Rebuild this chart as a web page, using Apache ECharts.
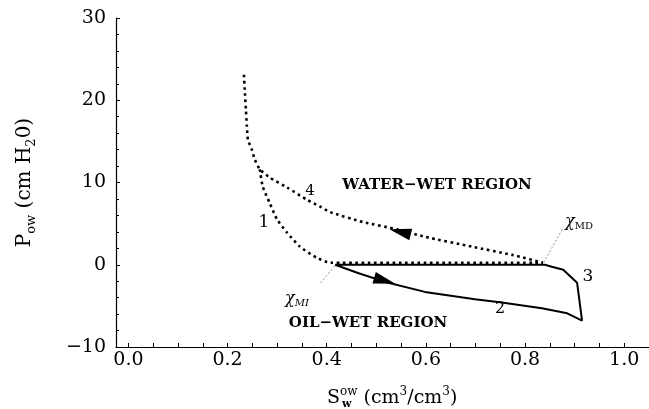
<!DOCTYPE html>
<html>
<head>
<meta charset="utf-8">
<script src="https://cdn.jsdelivr.net/npm/echarts@6/dist/echarts.min.js"></script>
<style>
  html, body { margin: 0; padding: 0; background: #fff; }
  #main { width: 649px; height: 409px; }
</style>
</head>
<body>
<div id="main"></div>
<script>
// upper dotted curve (drainage, branch 4)
var upperSw = [0.233, 0.235, 0.237, 0.239, 0.241, 0.249, 0.255, 0.265, 0.285, 0.320, 0.360, 0.386, 0.407, 0.473, 0.542, 0.598, 0.693, 0.774, 0.836];
var upperP = [23.1, 20.9, 18.8, 16.8, 15.2, 14.0, 12.8, 11.6, 10.6, 9.4, 7.9, 7.1, 6.4, 5.2, 4.3, 3.4, 2.2, 1.2, 0.25];
// lower dotted curve (branch 1), runs along zero to chi_MD
var lowerSw = [0.265, 0.271, 0.285, 0.300, 0.320, 0.346, 0.380, 0.407, 0.836];
var lowerP = [11.6, 9.5, 7.5, 5.5, 3.9, 2.2, 0.85, 0.25, 0.25];
// solid loop (branches 2 and 3)
var loopSw = [0.417, 0.840, 0.854, 0.877, 0.905, 0.915, 0.885, 0.834, 0.753, 0.699, 0.598, 0.524, 0.463, 0.417];
var loopP = [0, 0, -0.25, -0.6, -2.2, -6.8, -5.9, -5.3, -4.6, -4.2, -3.3, -2.2, -1.0, 0];
// arrow heads on the curves
var arrowSw = [0.548, 0.517];
var arrowP = [4.0, -1.95];
// leader lines to chi labels
var mdLeadSw = [0.875, 0.837];
var mdLeadP = [4.3, 0.2];
var miLeadSw = [0.388, 0.418];
var miLeadP = [-2.2, 0];
// x tick labels
var xTicks = [0.0, 0.2, 0.4, 0.6, 0.8, 1.0];

function pairs (xs, ys) {
  return xs.map(function (x, i) { return [x, ys[i]] })
}

var serif = 'DejaVu Serif'
var minorX = []
for (var i = 0; i <= 21; i++) minorX.push(+(i * 0.05).toFixed(2))

var chart = echarts.init(document.getElementById('main'))
chart.setOption({
  animation: false,
  backgroundColor: '#fff',
  grid: { left: 116, right: 0, top: 18, bottom: 62 },
  xAxis: {
    type: 'value',
    min: -0.025,
    max: 1.05,
    axisLine: { show: true, onZero: false, lineStyle: { color: '#000', width: 1.2 } },
    axisTick: { show: true, inside: true, length: 4, customValues: minorX, lineStyle: { color: '#000' } },
    axisLabel: {
      customValues: xTicks,
      margin: 4,
      color: '#000',
      fontFamily: serif,
      fontSize: 19,
      formatter: function (v) { return v.toFixed(1) }
    },
    splitLine: { show: false }
  },
  yAxis: {
    type: 'value',
    min: -10,
    max: 30,
    interval: 10,
    name: '{b|P}{s|ow}{b| (cm H}{s|2}{b|0)}',
    nameLocation: 'middle',
    nameRotate: 90,
    nameGap: 78,
    nameTextStyle: {
      rich: {
        b: { fontFamily: serif, fontSize: 20, color: '#000', lineHeight: 26 },
        s: { fontFamily: serif, fontSize: 13, color: '#000', lineHeight: 14, verticalAlign: 'bottom' }
      }
    },
    axisLine: { show: true, onZero: false, lineStyle: { color: '#000', width: 1.2 } },
    axisTick: { show: true, inside: true, length: 4, interval: 0, lineStyle: { color: '#000' } },
    minorTick: { show: true, splitNumber: 5, length: 3, lineStyle: { color: '#000' } },
    axisLabel: {
      margin: 10,
      color: '#000',
      fontFamily: serif,
      fontSize: 19,
      formatter: function (v) { return String(v).replace('-', '\u2212') }
    },
    splitLine: { show: false }
  },
  series: [
    {
      type: 'line',
      data: pairs(upperSw, upperP),
      showSymbol: false,
      smooth: 0.2,
      lineStyle: { color: '#000', width: 2.6, type: [2.6, 3.6], cap: 'butt' }
    },
    {
      type: 'line',
      data: pairs(lowerSw, lowerP),
      showSymbol: false,
      smooth: 0.2,
      lineStyle: { color: '#000', width: 2.6, type: [2.6, 3.6], cap: 'butt' }
    },
    {
      type: 'line',
      data: pairs(loopSw, loopP),
      showSymbol: false,
      lineStyle: { color: '#000', width: 2 }
    },
    {
      type: 'line',
      data: pairs(mdLeadSw, mdLeadP),
      showSymbol: false,
      lineStyle: { color: '#777', width: 0.8, type: [2, 2] }
    },
    {
      type: 'line',
      data: pairs(miLeadSw, miLeadP),
      showSymbol: false,
      lineStyle: { color: '#777', width: 0.8, type: [2, 2] }
    },
    {
      type: 'scatter',
      data: [
        { value: [arrowSw[0], arrowP[0]], symbolRotate: 76 },
        { value: [arrowSw[1], arrowP[1]], symbolRotate: -106 }
      ],
      symbol: 'triangle',
      symbolSize: [12, 22],
      itemStyle: { color: '#000', opacity: 1 }
    }
  ],
  graphic: [
    { type: 'text', x: 437, y: 185, style: { text: 'WATER\u2212WET REGION', font: 'bold 15px "DejaVu Serif"', fill: '#000', align: 'center', verticalAlign: 'middle' } },
    { type: 'text', x: 368, y: 323, style: { text: 'OIL\u2212WET REGION', font: 'bold 15px "DejaVu Serif"', fill: '#000', align: 'center', verticalAlign: 'middle' } },
    { type: 'text', x: 264, y: 223, style: { text: '1', font: '17px "DejaVu Serif"', fill: '#000', align: 'center', verticalAlign: 'middle' } },
    { type: 'text', x: 310, y: 191, style: { text: '4', font: '15px "DejaVu Serif"', fill: '#000', align: 'center', verticalAlign: 'middle' } },
    { type: 'text', x: 500, y: 309, style: { text: '2', font: '16px "DejaVu Serif"', fill: '#000', align: 'center', verticalAlign: 'middle' } },
    { type: 'text', x: 588, y: 277, style: { text: '3', font: '17px "DejaVu Serif"', fill: '#000', align: 'center', verticalAlign: 'middle' } },
    {
      type: 'text', x: 579, y: 222,
      style: {
        text: '{c|\u03c7}{s|MD}', align: 'center', verticalAlign: 'middle',
        rich: {
          c: { font: 'italic 16px "DejaVu Serif"', fill: '#000', lineHeight: 18 },
          s: { font: '10px "DejaVu Serif"', fill: '#000', lineHeight: 12, verticalAlign: 'bottom' }
        }
      }
    },
    {
      type: 'text', x: 297, y: 299,
      style: {
        text: '{c|\u03c7}{s|MI}', align: 'center', verticalAlign: 'middle',
        rich: {
          c: { font: 'italic 16px "DejaVu Serif"', fill: '#000', lineHeight: 18 },
          s: { font: 'italic 10px "DejaVu Serif"', fill: '#000', lineHeight: 12, verticalAlign: 'bottom' }
        }
      }
    },
    {
      type: 'text', x: 327, y: 398,
      style: {
        text: '{b|S}{p|ow}{b| (cm}{p|3}{b|/cm}{p|3}{b|)}', align: 'left', verticalAlign: 'middle',
        rich: {
          b: { font: '19px "DejaVu Serif"', fill: '#000', lineHeight: 24 },
          p: { font: '12px "DejaVu Serif"', fill: '#000', lineHeight: 12, verticalAlign: 'top' }
        }
      }
    },
    { type: 'text', x: 342, y: 404, style: { text: 'w', font: 'bold 11px "DejaVu Serif"', fill: '#000', align: 'left', verticalAlign: 'middle' } }
  ]
})
</script>
</body>
</html>
